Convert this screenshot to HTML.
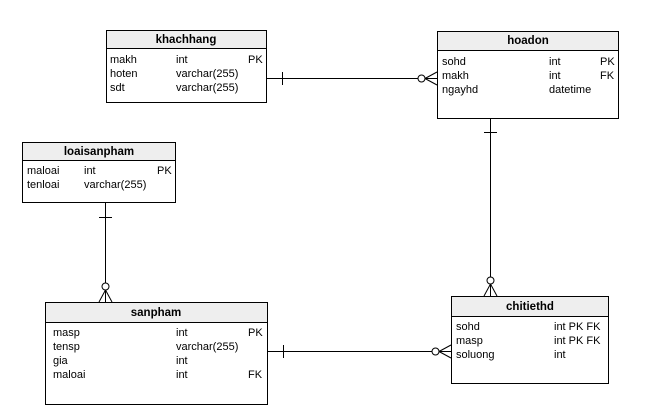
<!DOCTYPE html>
<html><head><style>body{margin:0;background:#fff}svg{display:block}text{font-family:"Liberation Sans",Arial,sans-serif;font-size:11px;fill:#000}.h{font-weight:bold;font-size:11.5px}</style></head>
<body>
<svg width="653" height="411" viewBox="0 0 653 411" xmlns="http://www.w3.org/2000/svg">
<g stroke="#000" stroke-width="1" fill="none">
<!-- khachhang -->
<rect x="106.5" y="30.5" width="160" height="72" fill="#fff"/>
<rect x="106.5" y="30.5" width="160" height="18" fill="#eee"/>
<!-- hoadon -->
<rect x="437.5" y="31.5" width="181" height="87" fill="#fff"/>
<rect x="437.5" y="31.5" width="181" height="19" fill="#eee"/>
<!-- loaisanpham -->
<rect x="22.5" y="142.5" width="153" height="60" fill="#fff"/>
<rect x="22.5" y="142.5" width="153" height="18" fill="#eee"/>
<!-- sanpham -->
<rect x="45.5" y="302.5" width="222" height="102" fill="#fff"/>
<rect x="45.5" y="302.5" width="222" height="20" fill="#eee"/>
<!-- chitiethd -->
<rect x="451.5" y="296.5" width="157" height="87" fill="#fff"/>
<rect x="451.5" y="296.5" width="157" height="20" fill="#eee"/>

<!-- khachhang - hoadon -->
<path d="M267 78.5H418M282.5 72V85M425 78.5L437 72M425 78.5L437 85M425 78.5H437"/>
<circle cx="421.5" cy="78.5" r="3.5" fill="#fff"/>
<!-- hoadon - chitiethd -->
<path d="M490.5 118V277M484 132.5H497M490.5 284L484 296M490.5 284L497 296M490.5 284V296"/>
<circle cx="490.5" cy="280.5" r="3.5" fill="#fff"/>
<!-- loaisanpham - sanpham -->
<path d="M105.5 203V283M99 217.5H112M105.5 290L99 302M105.5 290L112 302M105.5 290V302"/>
<circle cx="105.5" cy="286.5" r="3.5" fill="#fff"/>
<!-- sanpham - chitiethd -->
<path d="M267 351.5H432M283.5 345V358M439 351.5L451 345M439 351.5L451 358M439 351.5H451"/>
<circle cx="435.5" cy="351.5" r="3.5" fill="#fff"/>
</g>
<text class="h" x="186" y="43" text-anchor="middle">khachhang</text>
<text x="110" y="63">makh</text><text x="176" y="63">int</text><text x="248" y="63">PK</text>
<text x="110" y="77">hoten</text><text x="176" y="77">varchar(255)</text>
<text x="110" y="91">sdt</text><text x="176" y="91">varchar(255)</text>

<text class="h" x="528" y="44" text-anchor="middle">hoadon</text>
<text x="442" y="65">sohd</text><text x="549" y="65">int</text><text x="600" y="65">PK</text>
<text x="442" y="79">makh</text><text x="549" y="79">int</text><text x="600" y="79">FK</text>
<text x="442" y="93">ngayhd</text><text x="549" y="93">datetime</text>

<text class="h" x="99" y="155" text-anchor="middle">loaisanpham</text>
<text x="27" y="174">maloai</text><text x="84" y="174">int</text><text x="157" y="174">PK</text>
<text x="27" y="188">tenloai</text><text x="84" y="188">varchar(255)</text>

<text class="h" x="156" y="316" text-anchor="middle">sanpham</text>
<text x="53" y="336">masp</text><text x="176" y="336">int</text><text x="248" y="336">PK</text>
<text x="53" y="350">tensp</text><text x="176" y="350">varchar(255)</text>
<text x="53" y="364">gia</text><text x="176" y="364">int</text>
<text x="53" y="378">maloai</text><text x="176" y="378">int</text><text x="248" y="378">FK</text>

<text class="h" x="530" y="310" text-anchor="middle">chitiethd</text>
<text x="456" y="330">sohd</text><text x="554" y="330">int PK FK</text>
<text x="456" y="344">masp</text><text x="554" y="344">int PK FK</text>
<text x="456" y="358">soluong</text><text x="554" y="358">int</text>
</svg>
</body></html>
